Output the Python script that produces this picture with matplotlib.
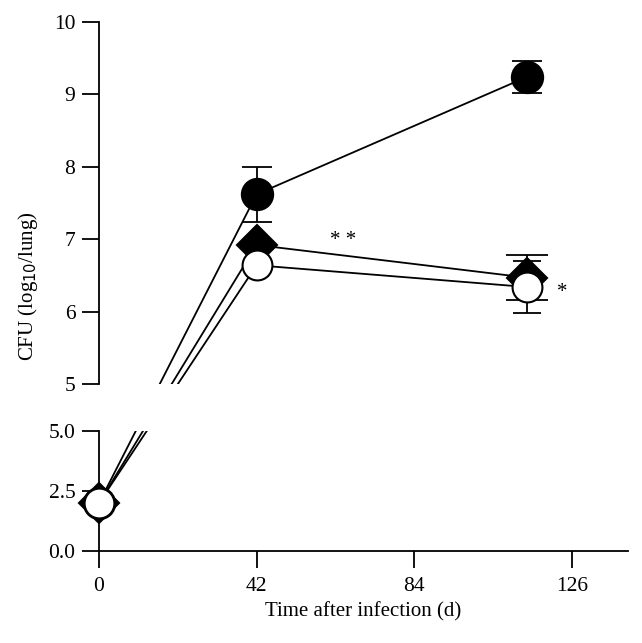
import matplotlib
matplotlib.use("Agg")
import matplotlib.pyplot as plt
import numpy as np

plt.rcParams['font.family'] = ['Liberation Serif', 'DejaVu Serif']
plt.rcParams['font.size'] = 15

# days after infection
days = [0, 42, 114]

# log10 CFU per lung, mean and sd (nan = bar hidden by marker)
filled_y = [2.0, 7.62, 9.24]
filled_err = [np.nan, 0.38, 0.22]
diamond_y = [2.0, 6.92, 6.47]
diamond_err = [np.nan, np.nan, 0.31]
open_y = [2.0, 6.64, 6.34]
open_err = [np.nan, np.nan, 0.36]

xticks = [0, 42, 84, 126]
upper_ticks = [5, 6, 7, 8, 9, 10]
lower_ticks = [0.0, 2.5, 5.0]
lower_ticklabels = ["0.0", "2.5", "5.0"]

fig = plt.figure(figsize=(6.42, 6.43), dpi=100)
W, H = 642, 643
left, right = 99 / W, 628 / W
ax_up = fig.add_axes([left, (H - 384) / H, right - left, (384 - 22) / H])
ax_lo = fig.add_axes([left, (H - 551) / H, right - left, (551 - 431) / H])

for ax in (ax_up, ax_lo):
    ax.set_xlim(0, 141)
    ax.spines['top'].set_visible(False)
    ax.spines['right'].set_visible(False)
    ax.spines['left'].set_linewidth(1.3)
    ax.spines['bottom'].set_linewidth(1.3)
    ax.tick_params(direction='out', length=12, width=1.3, pad=5, labelsize=15.5)
    ax.patch.set_visible(False)

ax_up.set_ylim(5, 10)
ax_up.set_yticks(upper_ticks)
ax_up.spines['bottom'].set_visible(False)
ax_up.set_xticks([])

ax_lo.set_ylim(0, 5)
ax_lo.set_yticks(lower_ticks)
ax_lo.set_yticklabels(lower_ticklabels)
ax_lo.set_xticks(xticks)
ax_lo.tick_params(axis='x', pad=7)
ax_lo.set_xlabel("Time after infection (d)", labelpad=4)

fig.text(28 / W, 1 - 286 / H, "CFU (log$_{10}$/lung)", rotation=90,
         ha='center', va='center')

series = [
    (filled_y, filled_err, dict(marker='o', ms=22.5, mfc='black', mec='black'), 11, 1),
    (diamond_y, diamond_err, dict(marker='D', ms=20, mfc='black', mec='black'), 15, 2),
    (open_y, open_err, dict(marker='o', ms=21.5, mfc='white', mec='black'), 10, 3),
]

fig.canvas.draw()

for ys, errs, mstyle, cap, z in series:
    # connecting line, straight across the break in screen space
    ys = np.array(ys)
    disp = ax_lo.transData.transform((days[0], ys[0]))
    y0_up = ax_up.transData.inverted().transform(disp)[1]
    ax_up.plot(days, [y0_up] + list(ys[1:]), color='black', lw=1.3, zorder=z)
    disp = ax_up.transData.transform((days[1], ys[1]))
    y1_lo = ax_lo.transData.inverted().transform(disp)[1]
    ax_lo.plot(days[:2], [ys[0], y1_lo], color='black', lw=1.3, zorder=z)

    # error bars and markers (day 0 sits on the lower panel)
    ax_up.errorbar(days[1:], ys[1:], yerr=errs[1:], fmt='none', ecolor='black',
                   elinewidth=1.3, capsize=cap, capthick=1.3, zorder=z)
    ax_up.plot(days[1:], ys[1:], linestyle='none', mew=1.5, zorder=z + 0.5,
               clip_on=False, **mstyle)
    ax_lo.plot(days[:1], ys[:1], linestyle='none', mew=1.5, zorder=z + 0.5,
               clip_on=False, **mstyle)

ax_up.text(65, 6.98, "* *", ha='center', va='center', fontsize=15)
ax_up.text(123.5, 6.26, "*", ha='center', va='center', fontsize=15)

fig.savefig("out.png", dpi=100)
